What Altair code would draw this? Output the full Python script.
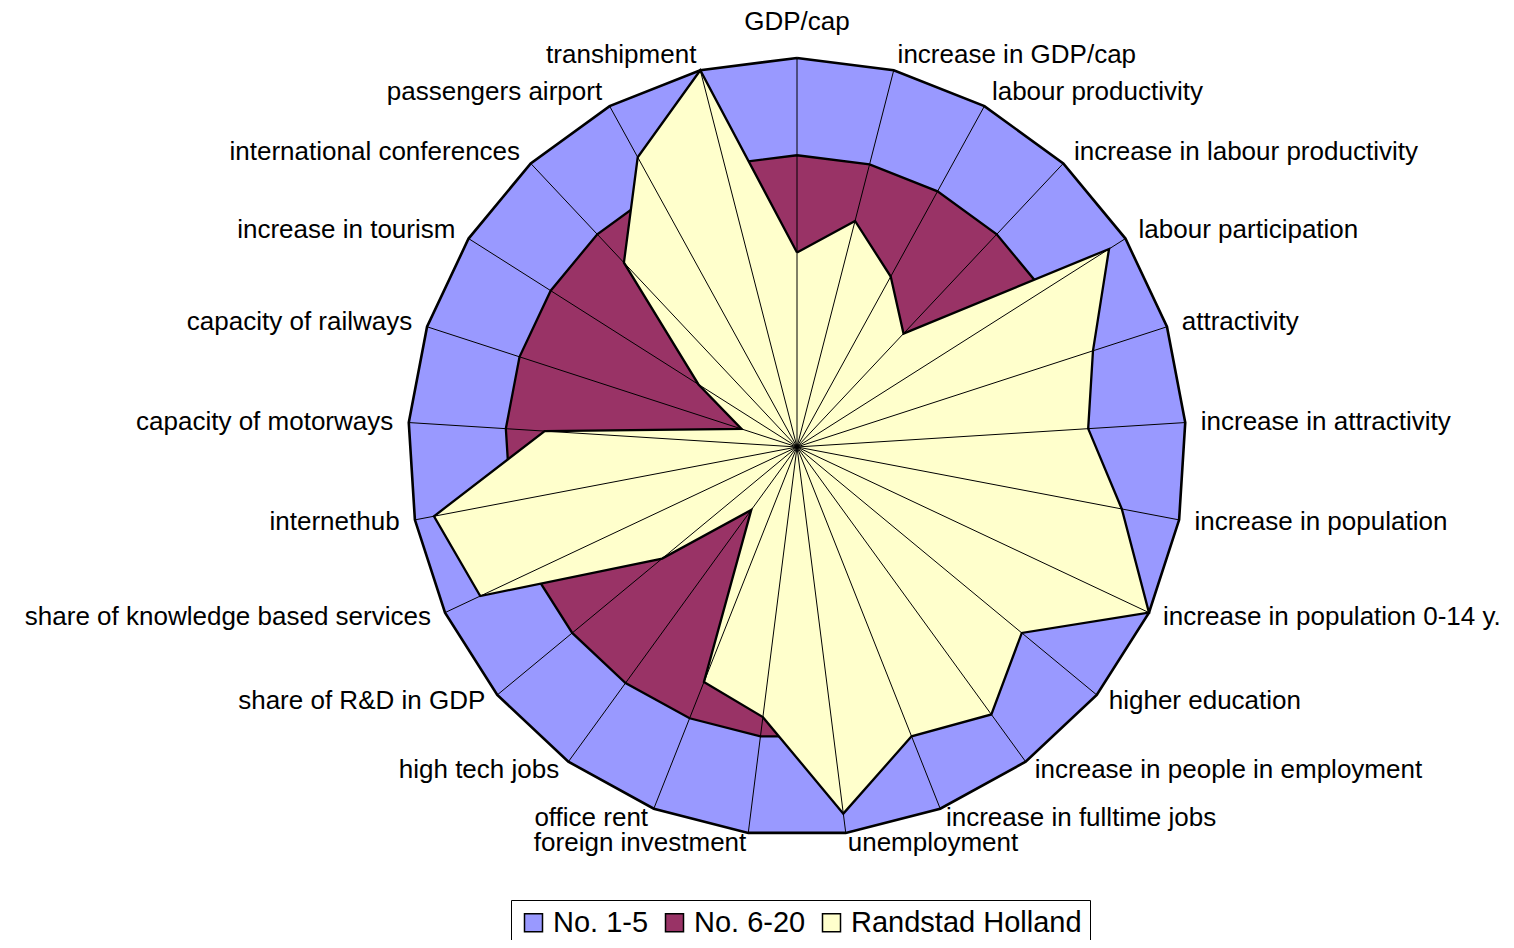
import altair as alt
import pandas as pd

categories = [
    "GDP/cap", "increase in GDP/cap", "labour productivity",
    "increase in labour productivity", "labour participation", "attractivity",
    "increase in attractivity", "increase in population",
    "increase in population 0-14 y.", "higher education",
    "increase in people in employment", "increase in fulltime jobs",
    "unemployment", "foreign investment", "office rent", "high tech jobs",
    "share of R&D in GDP", "share of knowledge based services", "internethub",
    "capacity of motorways", "capacity of railways", "increase in tourism",
    "international conferences", "passengers airport", "transhipment",
]
no_1_5 = [100, 100, 100, 100, 100, 100, 100, 100, 100, 100, 100, 100, 100,
          100, 100, 100, 100, 100, 100, 100, 100, 100, 100, 100, 100]
no_6_20 = [75, 75, 75, 75, 75, 75, 75, 75, 75, 75, 75, 75, 75,
           75, 75, 75, 75, 75, 75, 75, 75, 75, 75, 75, 75]
randstad = [50, 60, 50, 40, 95, 80, 75, 85, 100, 75, 85, 80, 95,
            70, 65, 20, 45, 90, 95, 65, 15, 30, 65, 85, 100]
series_names = ["No. 1-5", "No. 6-20", "Randstad Holland"]
series_colors = ["#9999FF", "#993366", "#FFFFCC"]

n = len(categories)
rows = []
for name, vals in zip(series_names, [no_1_5, no_6_20, randstad]):
    for k in range(n + 1):
        idx = k % n
        rows.append({"series": name, "k": k, "idx": idx, "value": vals[idx],
                     "category": categories[idx]})
df = pd.DataFrame(rows)
cat_df = pd.DataFrame({"idx": list(range(n)), "category": categories})

xs = alt.Scale(domain=[-202.83, 182.26], nice=False, zero=False)
ys = alt.Scale(domain=[-126.74, 112.85], nice=False, zero=False)

base = alt.Chart(df)


def polygon(name, color, sw):
    return (
        base.transform_filter(alt.datum.series == name)
        .transform_calculate(theta=f"datum.k*2*PI/{n}")
        .transform_calculate(px="datum.value*sin(datum.theta)")
        .transform_calculate(py="datum.value*cos(datum.theta)")
        .mark_line(fill=color, stroke="black", strokeWidth=sw, strokeJoin="miter")
        .encode(
            x=alt.X("px:Q", scale=xs, axis=None),
            y=alt.Y("py:Q", scale=ys, axis=None),
            order="k:Q",
        )
    )


legend_layer = (
    base.transform_filter(alt.datum.k == 0)
    .transform_calculate(cx="0", cy="0")
    .mark_square(size=20, opacity=1)
    .encode(
        x=alt.X("cx:Q", scale=xs, axis=None),
        y=alt.Y("cy:Q", scale=ys, axis=None),
        fill=alt.Fill(
            "series:N",
            scale=alt.Scale(domain=series_names, range=series_colors),
            legend=alt.Legend(
                title=None, orient="none", legendX=503, legendY=892,
                direction="horizontal", symbolType="square", symbolSize=324,
                symbolStrokeColor="black", symbolStrokeWidth=1.5,
                symbolOpacity=1, labelFontSize=29, labelFont="Liberation Sans",
                labelColor="black", strokeColor="black", fillColor="white",
                padding=8, columnPadding=11, labelOffset=5, labelLimit=0,
            ),
        ),
    )
)

cat_base = (
    alt.Chart(cat_df)
    .transform_calculate(theta=f"datum.idx*2*PI/{n}")
    .transform_calculate(ex="100*sin(datum.theta)", ey="100*cos(datum.theta)",
                         cx="0", cy="0")
)

spokes = cat_base.mark_rule(color="black", strokeWidth=1).encode(
    x=alt.X("cx:Q", scale=xs, axis=None),
    y=alt.Y("cy:Q", scale=ys, axis=None),
    x2="ex:Q",
    y2="ey:Q",
)

lab_base = cat_base.transform_calculate(
    lx="104*sin(datum.theta)",
    ly="datum.idx == 0 ? 109.3 : (cos(datum.theta) < 0 ? 102.5*cos(datum.theta) : 104*cos(datum.theta))",
)


def labels(filt, align):
    return (
        lab_base.transform_filter(filt)
        .mark_text(align=align, baseline="middle", font="Liberation Sans",
                   fontSize=26, color="black")
        .encode(
            x=alt.X("lx:Q", scale=xs, axis=None),
            y=alt.Y("ly:Q", scale=ys, axis=None),
            text="category:N",
        )
    )


lab_top = labels("datum.idx == 0", "center")
lab_right = labels(f"datum.idx > 0 && datum.idx*2 < {n}", "left")
lab_left = labels(f"datum.idx*2 > {n}", "right")

chart = (
    alt.layer(
        legend_layer,
        polygon(series_names[0], series_colors[0], 2.6),
        polygon(series_names[1], series_colors[1], 2.3),
        polygon(series_names[2], series_colors[2], 2.3),
        spokes,
        lab_top, lab_right, lab_left,
    )
    .properties(
        width=1498, height=932, padding=0,
        autosize=alt.AutoSizeParams(type="none"),
        background="white",
    )
    .configure_view(strokeWidth=0)
)

chart.save("out.html", embed_options={"renderer": "svg", "actions": False})
